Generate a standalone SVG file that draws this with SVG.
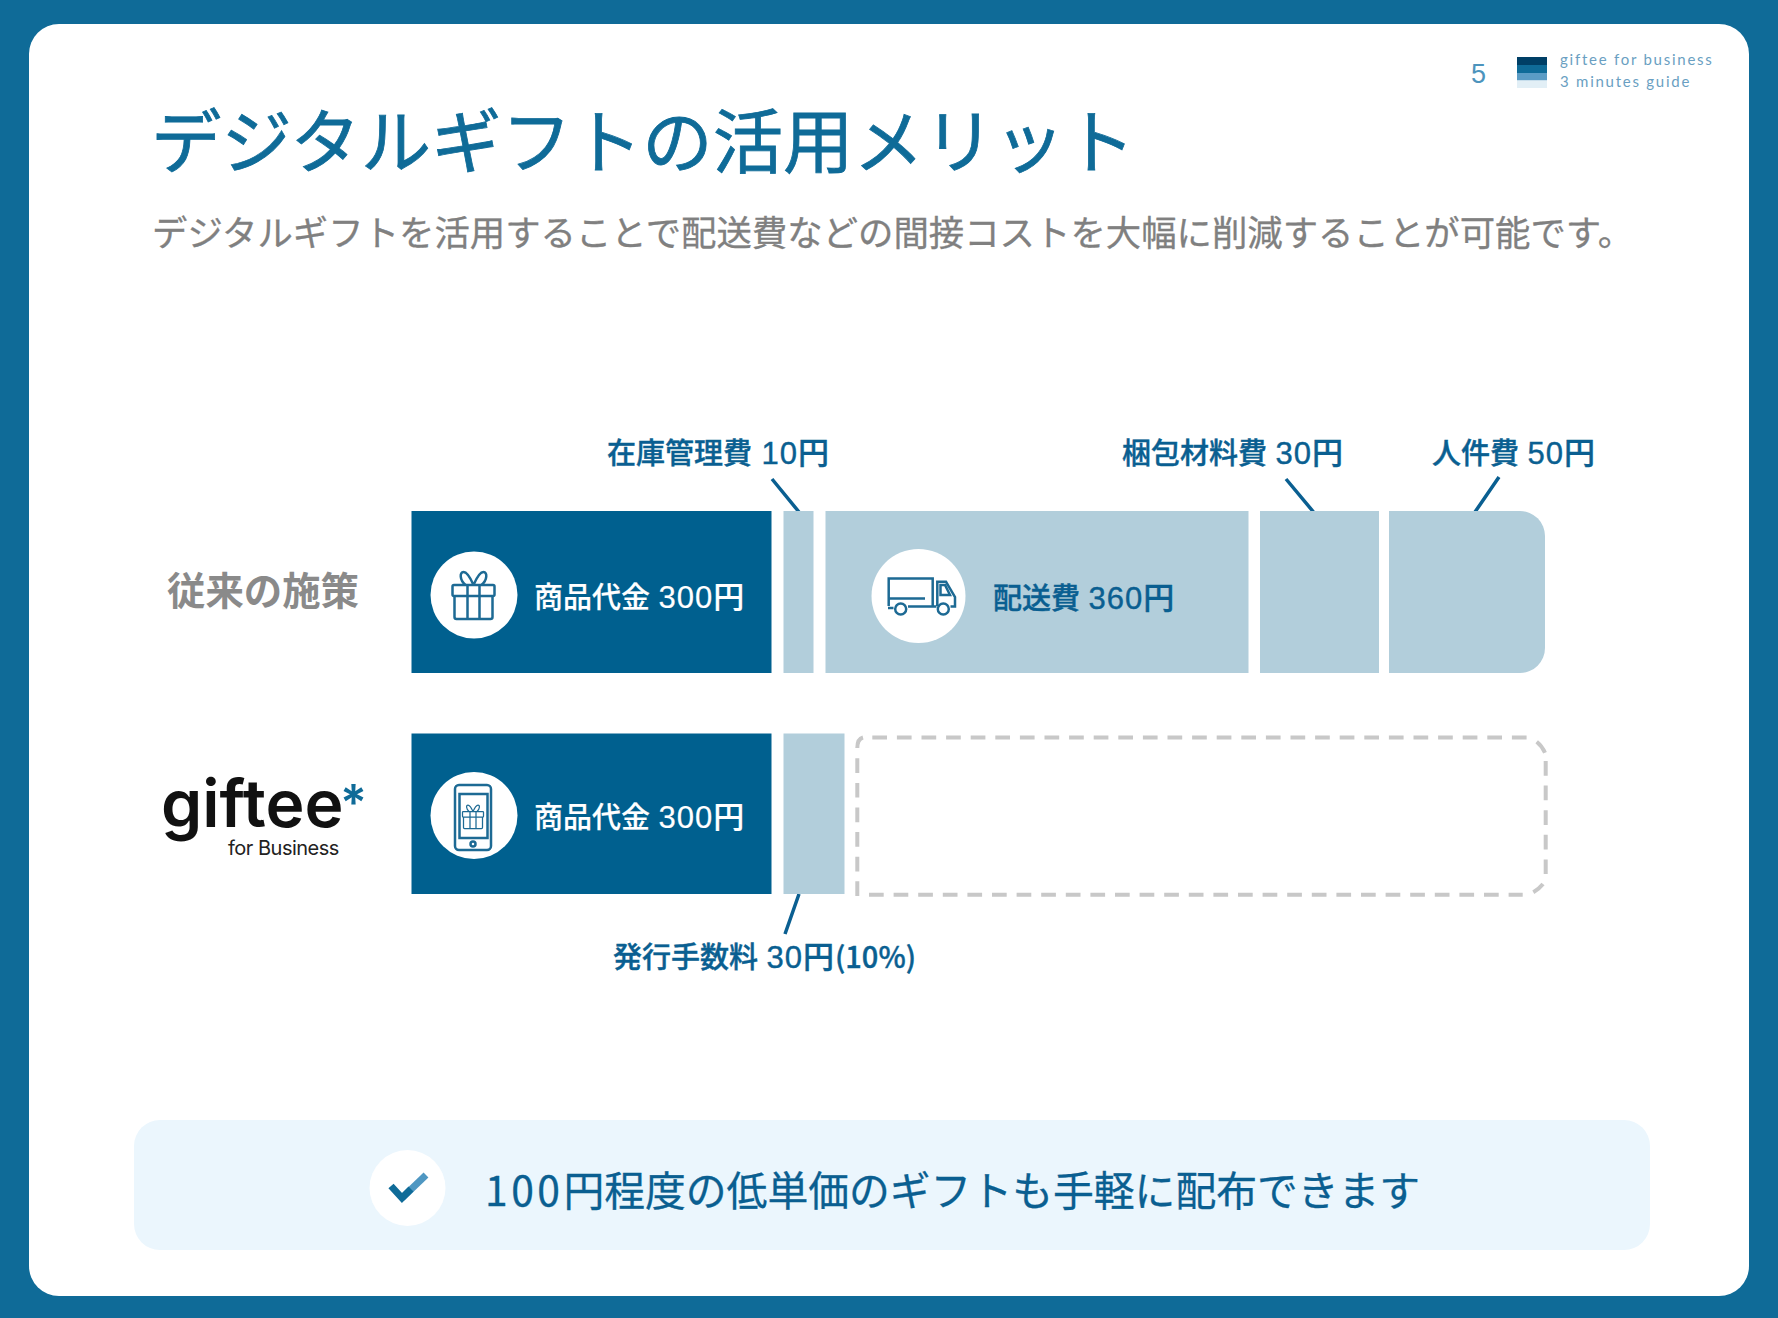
<svg xmlns="http://www.w3.org/2000/svg" width="1778" height="1318" viewBox="0 0 1778 1318">
<defs>
<style>
text{font-family:"Noto Sans CJK JP","Noto Sans",sans-serif}
.lbl{font-size:29px;font-weight:500;fill:#0a5f91;stroke:#0a5f91;stroke-width:.4px}
.wht{font-size:29px;font-weight:500;fill:#fff;stroke:#fff;stroke-width:.2px}
.num{font-size:31px;letter-spacing:1px;font-family:"Liberation Sans","Noto Sans CJK JP",sans-serif}
.dk{fill:#00608f}
.lt{fill:#b2cedb}
.ic{fill:none;stroke:#1d6a94;stroke-width:2.5}
.ld{stroke:#0a5f91;stroke-width:3.500;fill:none}
.dash{fill:none;stroke:#c8c8c8;stroke-width:4;stroke-dasharray:14.7 9.9}
.dashc{fill:none;stroke:#c8c8c8;stroke-width:4}
</style>
<g id="giftIcon">
<rect class="ic" x="-21" y="-9" width="42" height="11" rx="1.5"/>
<path class="ic" d="M-19 2V23a2 2 0 0 0 2 2H17a2 2 0 0 0 2-2V2M-6-9V25M6-9V25"/>
<path class="ic" d="M0-9C-3-16-6-22-10-22S-14-14-8-9M0-9C3-16 6-22 10-22S14-14 8-9"/>
</g>
</defs>
<rect width="1778" height="1318" fill="#0f6b98"/>
<rect id="card" x="29" y="24" width="1720" height="1272" rx="30" fill="#fff"/>
<g id="header">
<text x="1471" y="83" font-size="27" style="font-family:'Liberation Sans',sans-serif" fill="#4d94bd">5</text>
<rect x="1517" y="57" width="30" height="8" fill="#003f66"/>
<rect x="1517" y="65" width="30" height="8" fill="#0f6b98"/>
<rect x="1517" y="73" width="30" height="7.500" fill="#5b9cc5"/>
<rect x="1517" y="80.500" width="30" height="7.500" fill="#e2eff6"/>
<text x="1560" y="65" font-size="15" letter-spacing="1.750" style="font-family:Lato,sans-serif" fill="#6a9fc2">giftee for business</text>
<text x="1560" y="87" font-size="15" letter-spacing="1.750" style="font-family:Lato,sans-serif" fill="#6a9fc2">3 minutes guide</text>
<text x="151" y="168" font-size="70.400" fill="#0f6b98" stroke="#0f6b98" stroke-width=".8">デジタルギフトの活用メリット</text>
<text x="152" y="246" font-size="35.400" fill="#808080" stroke="#808080" stroke-width=".3">デジタルギフトを活用することで配送費などの間接コストを大幅に削減することが可能です。</text>
</g>
<g id="connectors">
<path class="ld" d="M772 479L799 512M1286 479L1313.500 512M1499 477L1475 512M799 894L785 934"/>
</g>
<g id="row1-label"><text x="167" y="605" font-size="38.400" font-weight="700" fill="#8a8a8a">従来の施策</text></g>
<g id="row1-product">
<rect class="dk" x="411.500" y="511" width="360" height="162"/>
<circle cx="474" cy="595" r="43.500" fill="#fff"/>
<use href="#giftIcon" x="473.500" y="594"/>
<text class="wht" x="534" y="608">商品代金 <tspan class="num" dx="2">300円</tspan></text>
</g>
<g id="row1-stock"><rect class="lt" x="783.500" y="511" width="30" height="162"/></g>
<g id="row1-shipping">
<rect class="lt" x="825.500" y="511" width="423" height="162"/>
<circle cx="918.500" cy="596" r="47" fill="#fff"/>
<path class="ic" d="M888.700 606V578.500H932.700V606M888.700 598.500H925M888 608H893.500M908 606.500H936.500M950.500 606.500H955V597L946 581.700H937.300V606M940.500 585H945L950 595H940.500Z"/>
<circle class="ic" cx="900.700" cy="609" r="5.500"/><circle class="ic" cx="943.300" cy="609" r="5.500"/>
<text class="lbl" x="993" y="609">配送費 <tspan class="num" dx="2">360円</tspan></text>
</g>
<g id="row1-packing"><rect class="lt" x="1260" y="511" width="119" height="162"/></g>
<g id="row1-labor"><path class="lt" d="M1389 511H1520a25 25 0 0 1 25 25V648a25 25 0 0 1-25 25H1389Z"/></g>
<g id="labels-top">
<text class="lbl" x="607" y="464">在庫管理費 <tspan class="num" dx="3">10円</tspan></text>
<text class="lbl" x="1122" y="464">梱包材料費 <tspan class="num" dx="2">30円</tspan></text>
<text class="lbl" x="1432" y="464">人件費 <tspan class="num" dx="2">50円</tspan></text>
</g>
<g id="row2-logo">
<text x="161" y="827" font-size="66" font-weight="600" fill="#111" style="font-family:Inter,sans-serif">giftee</text>
<text x="340" y="820" font-size="50" font-weight="600" fill="#0f6b98" style="font-family:Inter,sans-serif">*</text>
<text x="228" y="855" font-size="20" letter-spacing="-.5" fill="#222" style="font-family:Inter,sans-serif">for Business</text>
</g>
<g id="row2-product">
<rect class="dk" x="411.500" y="733.500" width="360" height="160.500"/>
<circle cx="474" cy="815.500" r="43.500" fill="#fff"/>
<rect class="ic" x="455" y="785" width="36" height="65" rx="4"/>
<rect class="ic" x="459.500" y="794" width="28" height="44" stroke-width="2"/>
<circle class="ic" cx="473" cy="844" r="2.500" stroke-width="2"/>
<use href="#giftIcon" transform="translate(473 816) scale(.5)"/>
<text class="wht" x="534" y="828">商品代金 <tspan class="num" dx="2">300円</tspan></text>
</g>
<g id="row2-fee"><rect class="lt" x="783.500" y="733.500" width="61" height="160.500"/></g>
<g id="row2-saved">
<path class="dash" d="M872.300 737.500H1526.700M869 894.700H1522.700M1545.700 761V875M857.300 758.300V896"/>
<path class="dashc" d="M857.300 748Q857.300 739 863 737.500M1536.700 741.700Q1542 746 1545 752.700M1533.300 892.300Q1539 889 1543 884"/>
</g>
<g id="label-fee"><text class="lbl" x="613" y="968">発行手数料 <tspan class="num" dx="2">30円</tspan>(10%)</text></g>
<g id="banner">
<rect x="134" y="1120" width="1516" height="130" rx="26" fill="#ebf6fd"/>
<circle cx="407.500" cy="1188" r="38" fill="#fff"/>
<path d="M402 1198L426 1175" stroke="#4f97c2" stroke-width="7" fill="none"/>
<path d="M391 1186L402 1198L411 1189" stroke="#0f6b98" stroke-width="7" fill="none"/>
<text x="485" y="1206" font-size="40.800" fill="#0a5f91" stroke="#0a5f91" stroke-width=".3"><tspan letter-spacing="3.500">100</tspan>円程度の低単価のギフトも手軽に配布できます</text>
</g>
</svg>
